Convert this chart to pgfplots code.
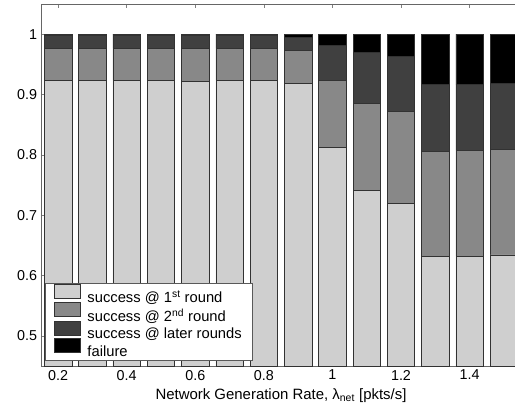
\documentclass[border=0pt]{standalone}
\usepackage{pgfplots}
\pgfplotsset{compat=1.18}
\usepackage{pgfplotstable}
\usepackage{fontspec}
\setmainfont{Liberation Sans}
\definecolor{cfirst}{RGB}{207,207,207}
\definecolor{csecond}{RGB}{136,136,136}
\definecolor{clater}{RGB}{64,64,64}
\definecolor{cfail}{RGB}{0,0,0}
\definecolor{cedge}{RGB}{50,50,50}
\pgfplotstableread{
x     first  second later  fail
0.2   0.924  0.0525 0.0215 0.002
0.3   0.924  0.0525 0.0215 0.002
0.4   0.924  0.0525 0.0215 0.002
0.5   0.924  0.0525 0.0215 0.002
0.6   0.922  0.0545 0.0215 0.002
0.7   0.924  0.0525 0.0215 0.002
0.8   0.924  0.0525 0.0215 0.002
0.9   0.919  0.054  0.021  0.006
1.0   0.812  0.111  0.059  0.018
1.1   0.741  0.144  0.085  0.030
1.2   0.720  0.152  0.091  0.037
1.3   0.631  0.175  0.111  0.083
1.4   0.632  0.176  0.108  0.084
1.5   0.634  0.175  0.109  0.082
}\datatable
\begin{document}
\begin{tikzpicture}
\begin{axis}[
  scale only axis,
  width=480bp, height=362bp,
  xmin=0.15, xmax=1.55,
  ymin=0.45, ymax=1.05,
  ybar stacked,
  bar width=0.08,
  xtick={0.2,0.4,0.6,0.8,1,1.2,1.4},
  xticklabels={0.2,0.4,0.6,0.8,1,1.2,1.4},
  ytick={0.5,0.6,0.7,0.8,0.9,1},
  yticklabels={0.5,0.6,0.7,0.8,0.9,1},
  tick align=inside,
  major tick length=4bp,
  tick style={color=gray, line width=0.6pt},
  axis line style={color=gray!80!black, line width=0.6pt},
  tick label style={font=\fontsize{14.4}{16}\selectfont},
  label style={font=\fontsize{15}{16}\selectfont},
  xticklabel style={yshift=-0.5bp},
  yticklabel style={xshift=-0.5bp},
  xlabel={Network Generation Rate, λ\textsubscript{net} [pkts/s]},
  xlabel style={yshift=-2bp},
  /pgf/number format/assume math mode=true,
  every axis plot/.append style={draw=cedge, line width=0.7pt},
  legend cell align=left,
  legend style={at={(0.008,0.014)}, anchor=south west, draw=gray!70!black,
    line width=0.6pt, font=\fontsize{14.8}{15}\selectfont, row sep=-4bp,
    inner xsep=9bp, inner ysep=1bp},
  legend image code/.code={\draw[#1] (0bp,-1bp) rectangle (26bp,13bp); \path[draw=none,fill=none] (0bp,0bp) rectangle (31bp,0bp);},
]
\addplot[fill=cfirst, draw=cedge] table[x=x, y=first] {\datatable};
\addplot[fill=csecond, draw=cedge] table[x=x, y=second] {\datatable};
\addplot[fill=clater, draw=cedge] table[x=x, y=later] {\datatable};
\addplot[fill=cfail, draw=cedge] table[x=x, y=fail] {\datatable};
\legend{success @ 1\textsuperscript{st} round, success @ 2\textsuperscript{nd} round, success @ later rounds, failure}
\end{axis}
\pgfresetboundingbox
\path[use as bounding box] ([xshift=-41bp,yshift=-40bp]current axis.south west) rectangle ([xshift=474bp,yshift=4bp]current axis.north west);
\end{tikzpicture}
\end{document}
